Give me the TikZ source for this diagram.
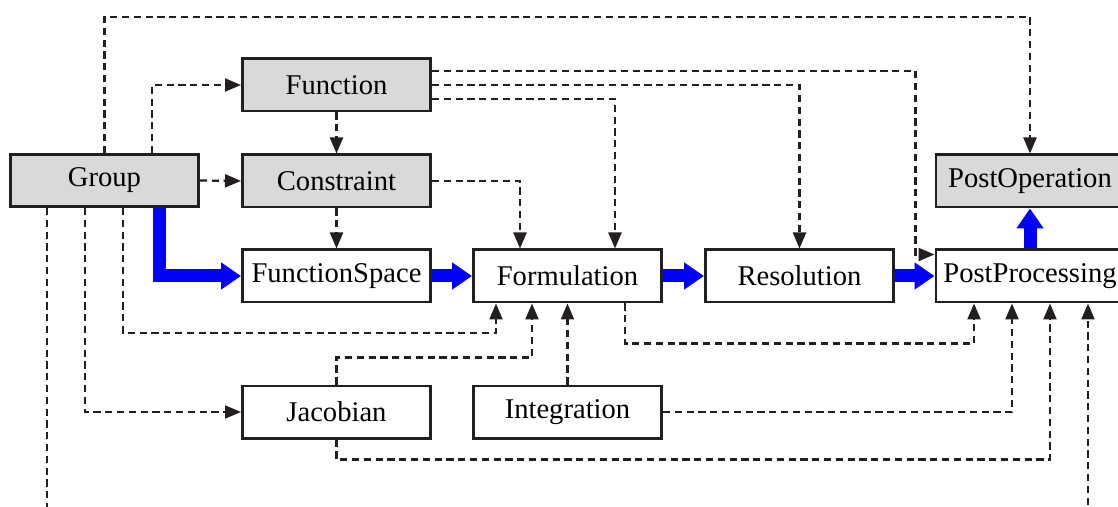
\documentclass[tikz,border=0pt]{standalone}
\usepackage{fontspec}
\setmainfont{Liberation Serif}
\usetikzlibrary{arrows.meta}
\usetikzlibrary{calc}

\definecolor{boxgray}{RGB}{217,217,217}
\definecolor{linedark}{RGB}{35,31,32}
\definecolor{flowblue}{RGB}{0,0,255}

\begin{document}
\begin{tikzpicture}[x=0.5pt,y=-0.5pt,
        box/.style={draw=linedark, line width=1.3pt, fill=white, minimum width=94.2pt,
            minimum height=26.2pt, inner sep=0pt, font=\fontsize{14.3pt}{17pt}\selectfont},
        grey/.style={box, fill=boxgray},
        dep/.style={draw=linedark, line width=1.1pt, dash pattern=on 3.6pt off 2.3pt,
            -{Triangle[length=8pt,width=6.5pt]}},
        flow/.style={draw=flowblue, line width=6.5pt,
            -{Triangle[length=10pt,width=13pt]}}]
        \clip (0,0) rectangle (1118,507);

        % boxes
        \node[grey] (Group) at (104.5,180.5) {Group};
        \node[grey] (Function) at (336.5,85) {Function};
        \node[grey] (Constraint) at (336.5,181) {Constraint};
        \node[box] (FunctionSpace) at (336.5,276) {FunctionSpace};
        \node[box] (Formulation) at (567.5,276) {Formulation};
        \node[box] (Resolution) at (799.5,276) {Resolution};
        \node[box] (PostProcessing) at (1030,276) {PostProcessing};
        \node[grey] (PostOperation) at (1030,181) {PostOperation};
        \node[box] (Jacobian) at (336.5,412) {Jacobian};
        \node[box] (Integration) at (567.5,412) {Integration};

        % main flow
        \draw[flow] ($(Group.south)+(54.5,0)$) |- (FunctionSpace.west);
        \draw[flow] (FunctionSpace.east) -- (Formulation.west);
        \draw[flow] (Formulation.east) -- (Resolution.west);
        \draw[flow] (Resolution.east) -- (PostProcessing.west);
        \draw[flow] (PostProcessing.north) -- (PostOperation.south);

        % dependencies from Group
        \draw[dep] (Group.north) -- ++(0,-136) -| (PostOperation.north);
        \draw[dep] ($(Group.north)+(47.5,0)$) |- (Function.west);
        \draw[dep] (Group.east) -- (Constraint.west);
        \draw[dep] ($(Group.south)+(18.5,0)$) -- ++(0,125) -| ($(Formulation.south)+(-71.5,0)$);
        \draw[dep] ($(Group.south)+(-19.5,0)$) |- (Jacobian.west);
        \draw[dep] ($(Group.south)+(-57.5,0)$) -- ++(0,330) -| ($(PostProcessing.south)+(58,0)$);

        % dependencies from Function and Constraint
        \draw[dep] (Function.south) -- (Constraint.north);
        \draw[dep] (Constraint.south) -- (FunctionSpace.north);
        \draw[dep] ($(Function.east)+(0,-14)$) -| ($(PostProcessing.north west)+(-19,6)$)
            -- ($(PostProcessing.north west)+(0,6)$);
        \draw[dep] (Function.east) -| (Resolution.north);
        \draw[dep] ($(Function.east)+(0,14)$) -| ($(Formulation.north)+(47.5,0)$);
        \draw[dep] (Constraint.east) -| ($(Formulation.north)+(-47.5,0)$);

        % dependencies from Jacobian, Integration and Formulation
        \draw[dep] (Jacobian.north) -- ++(0,-27) -| ($(Formulation.south)+(-35.5,0)$);
        \draw[dep] (Integration.north) -- (Formulation.south);
        \draw[dep] ($(Formulation.south)+(57.5,0)$) -- ++(0,40) -| ($(PostProcessing.south)+(-56,0)$);
        \draw[dep] (Integration.east) -| ($(PostProcessing.south)+(-18,0)$);
        \draw[dep] (Jacobian.south) -- ++(0,20) -| ($(PostProcessing.south)+(20,0)$);
    \end{tikzpicture}
\end{document}
